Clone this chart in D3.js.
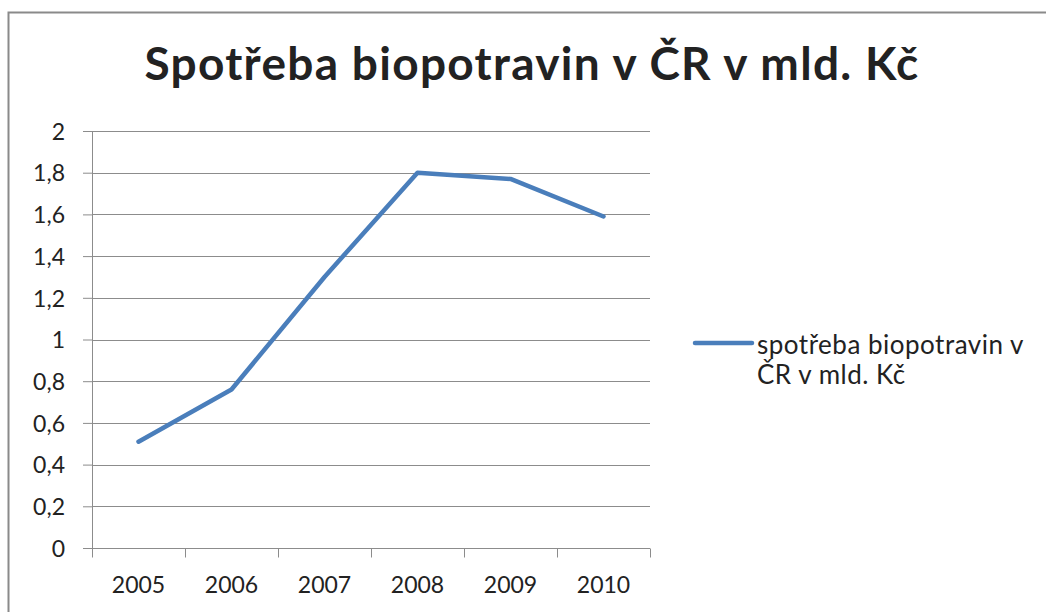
<!DOCTYPE html>
<html>
<head>
<meta charset="utf-8">
<script src="https://d3js.org/d3.v7.min.js"></script>
<style>
  body { margin: 0; background: #fff; }
  text { font-family: Lato, "Open Sans", sans-serif; fill: #222; }
</style>
</head>
<body>
<div id="chart"></div>
<script>
// data
var years = ["2005", "2006", "2007", "2008", "2009", "2010"];
var values = [0.51, 0.76, 1.3, 1.8, 1.77, 1.59];
var yTicks = [0, 0.2, 0.4, 0.6, 0.8, 1, 1.2, 1.4, 1.6, 1.8, 2];
var seriesName = ["spotřeba biopotravin v", "ČR v mld. Kč"];
var title = "Spotřeba biopotravin v ČR v mld. Kč";

var W = 1046, H = 612;
var plot = { left: 92, right: 650, top: 131, bottom: 548 };
var lineColor = "#4a7ebb";
var gridColor = "#8c8c8c";

var svg = d3.select("#chart")
  .append("svg")
    .attr("width", W)
    .attr("height", H);

// outer chart border (runs off the right and bottom edge)
svg.append("rect")
  .attr("x", 8.5)
  .attr("y", 12.5)
  .attr("width", W + 20)
  .attr("height", H + 20)
  .attr("fill", "#fff")
  .attr("stroke", "#8a8a8a")
  .attr("stroke-width", 2);

var x = d3.scaleBand().domain(years).range([plot.left, plot.right]).padding(0);
var y = d3.scaleLinear().domain([0, 2]).range([plot.bottom, plot.top]);

// horizontal gridlines
svg.append("g")
  .selectAll("line")
  .data(yTicks.filter(function(d) { return d > 0; }))
  .enter()
  .append("line")
  .attr("x1", plot.left)
  .attr("x2", plot.right)
  .attr("y1", function(d) { return Math.round(y(d)) + 0.5; })
  .attr("y2", function(d) { return Math.round(y(d)) + 0.5; })
  .attr("stroke", gridColor)
  .attr("stroke-width", 1);

// y axis
var yAxis = svg.append("g")
  .attr("transform", "translate(" + plot.left + ",0)")
  .call(d3.axisLeft(y)
    .tickValues(yTicks)
    .tickSize(9)
    .tickPadding(18)
    .tickFormat(function(d) { return d3.format("~g")(d).replace(".", ","); }));
yAxis.select(".domain").attr("stroke", gridColor).attr("d", "M0.5," + plot.top + "V" + (plot.bottom + 9));
yAxis.selectAll(".tick line").attr("stroke", gridColor);
yAxis.selectAll(".tick text")
  .style("font-size", "23px")
  .attr("fill", "#222")
  .attr("dy", "0.36em");

// x axis with ticks on band edges
var xg = svg.append("g")
  .attr("transform", "translate(0," + (Math.round(plot.bottom) + 0.5) + ")");
xg.append("line")
  .attr("x1", plot.left - 9)
  .attr("x2", plot.right)
  .attr("stroke", gridColor);
var edges = years.map(function(d) { return x(d); }).concat([plot.right]);
xg.selectAll(".edge")
  .data(edges)
  .enter()
  .append("line")
  .attr("class", "edge")
  .attr("x1", function(d) { return Math.round(d) + 0.5; })
  .attr("x2", function(d) { return Math.round(d) + 0.5; })
  .attr("y1", 0)
  .attr("y2", 9)
  .attr("stroke", gridColor);
xg.selectAll(".lbl")
  .data(years)
  .enter()
  .append("text")
  .attr("class", "lbl")
  .attr("x", function(d) { return x(d) + x.bandwidth() / 2; })
  .attr("y", 44)
  .attr("text-anchor", "middle")
  .style("font-size", "23px")
  .text(function(d) { return d; });

// the series line
var line = d3.line()
  .x(function(d, i) { return x(years[i]) + x.bandwidth() / 2; })
  .y(function(d) { return y(d); });

svg.append("path")
  .datum(values)
  .attr("d", line)
  .attr("fill", "none")
  .attr("stroke", lineColor)
  .attr("stroke-width", 4.5)
  .attr("stroke-linejoin", "round")
  .attr("stroke-linecap", "round");

// title
svg.append("text")
  .attr("x", 532)
  .attr("y", 80)
  .attr("text-anchor", "middle")
  .style("font-size", "46px")
  .style("font-weight", "bold")
  .style("letter-spacing", "1.3px")
  .attr("fill", "#000")
  .text(title);

// legend
var legend = svg.append("g").attr("transform", "translate(695,343)");
legend.append("line")
  .attr("x1", 0)
  .attr("x2", 57)
  .attr("stroke", lineColor)
  .attr("stroke-width", 4.5)
  .attr("stroke-linecap", "round");
legend.selectAll("text")
  .data(seriesName)
  .enter()
  .append("text")
  .attr("x", 62)
  .attr("y", function(d, i) { return 11 + i * 30; })
  .style("font-size", "26px")
  .style("letter-spacing", "0.5px")
  .text(function(d) { return d; });
</script>
</body>
</html>
